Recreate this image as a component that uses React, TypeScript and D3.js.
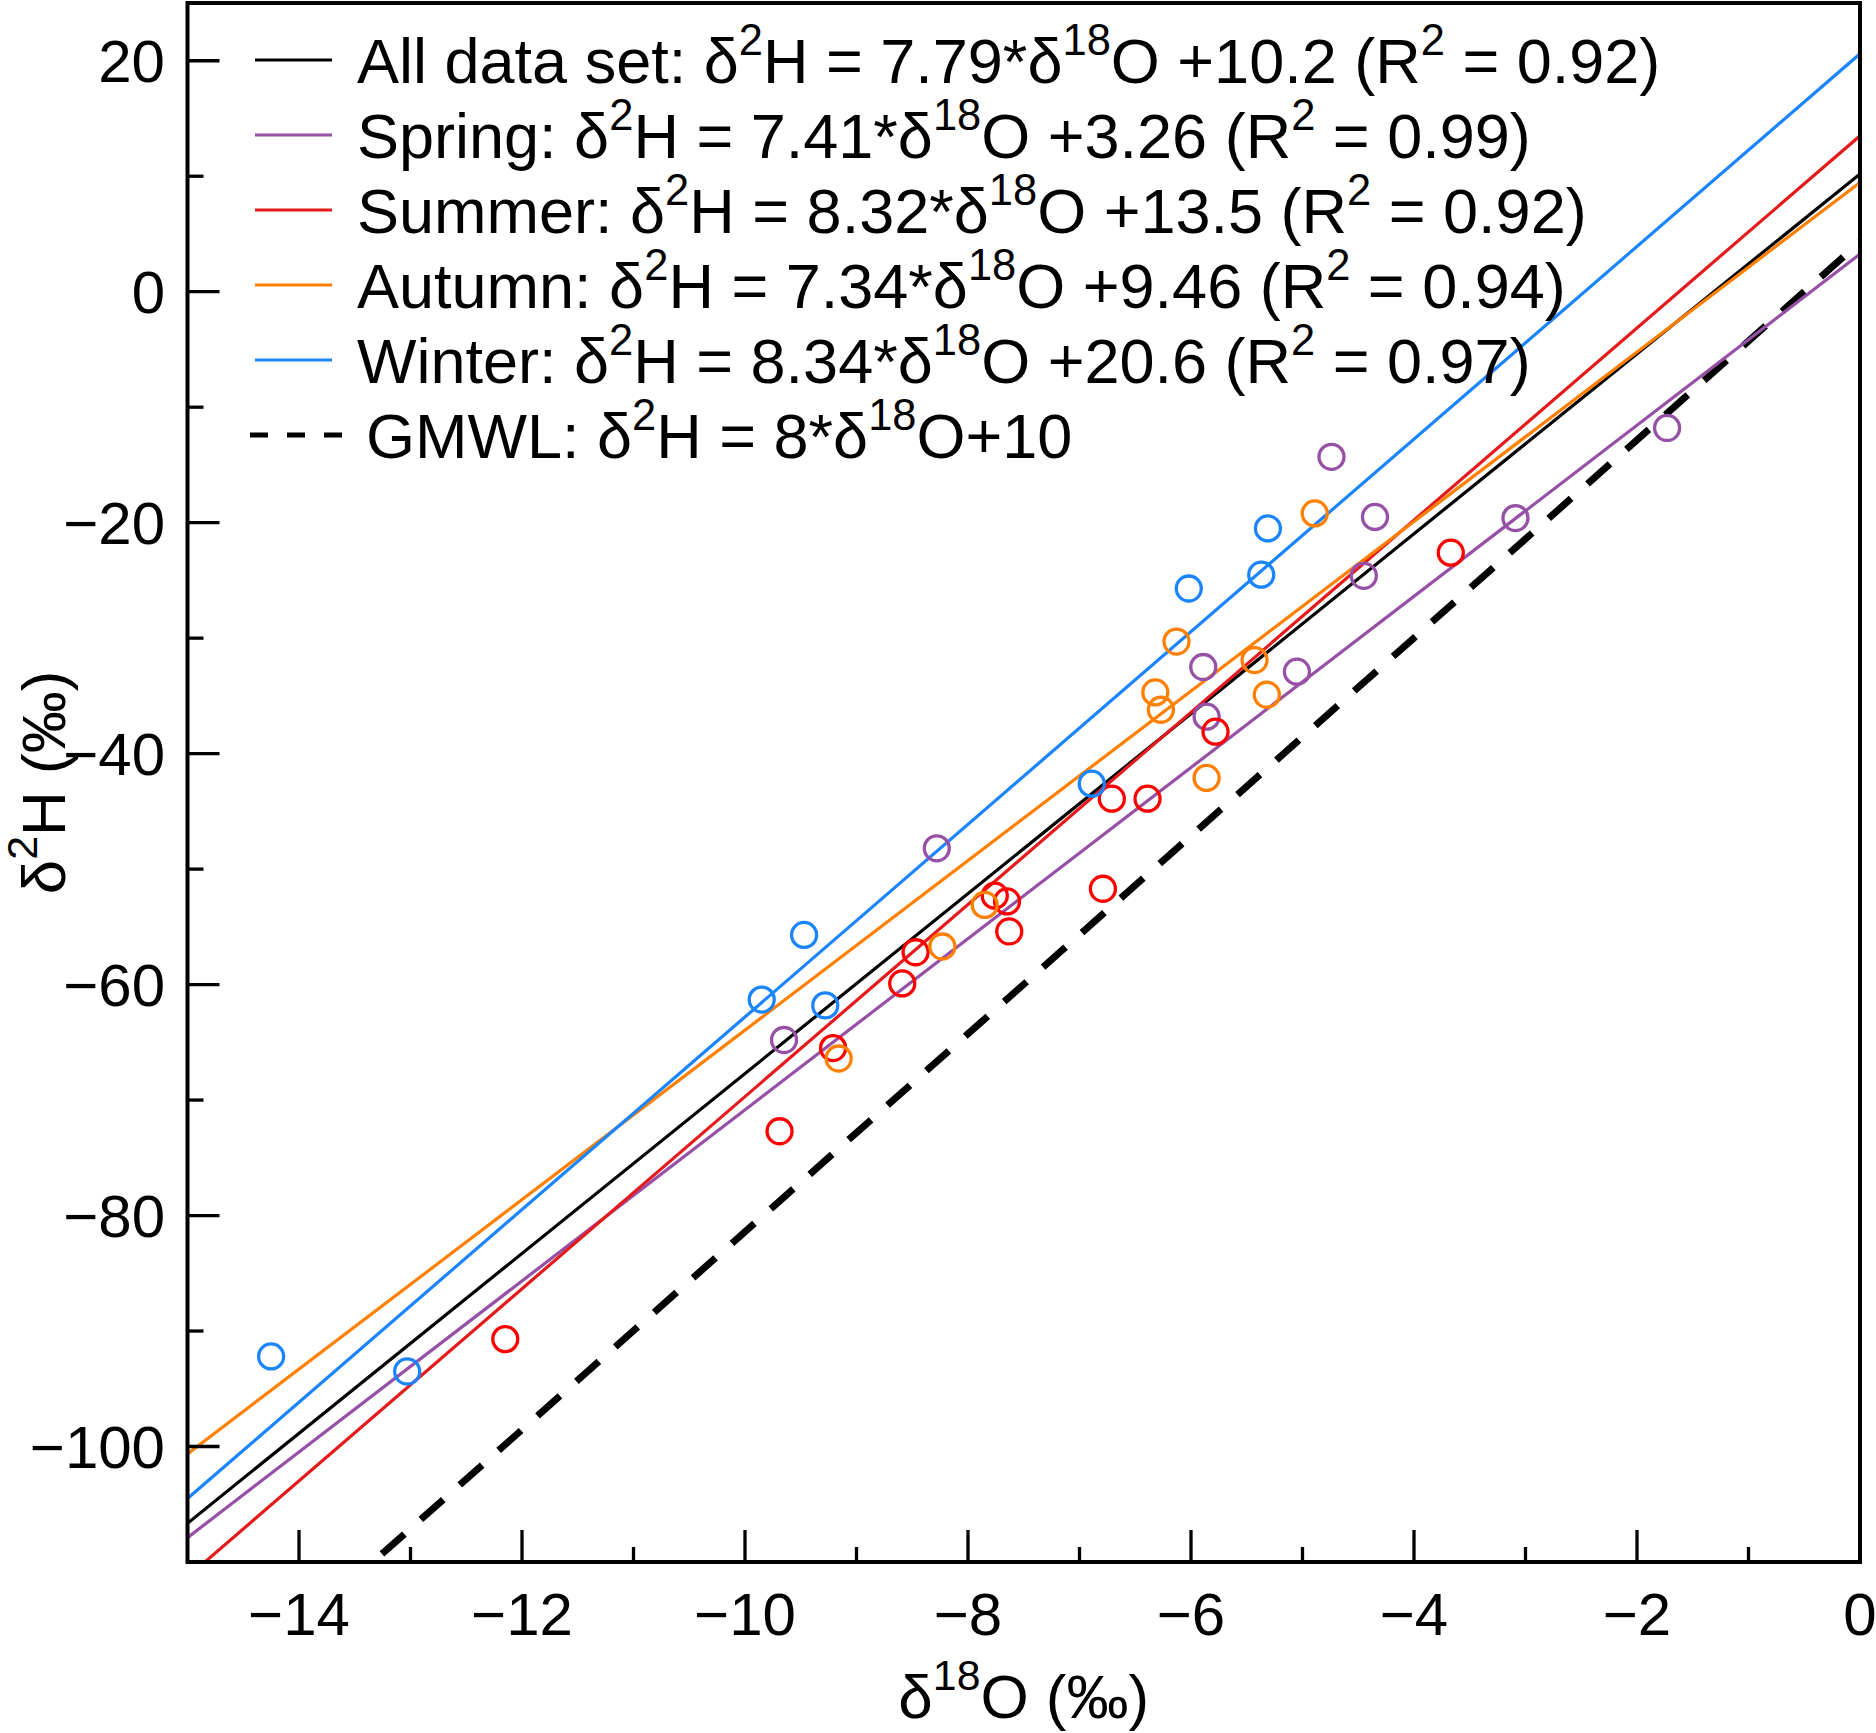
import { useRef, useEffect } from "react";
import * as d3 from "d3";

// Seasonal isotope samples [δ18O, δ2H]
const springPts: [number, number][] = [
  [-9.65, -64.8], [-8.28, -48.2], [-5.89, -32.5], [-5.86, -36.8], [-5.05, -32.9],
  [-4.74, -14.3], [-4.45, -24.6], [-4.35, -19.5], [-3.09, -19.6], [-1.73, -11.8],
];
const summerPts: [number, number][] = [
  [-12.15, -90.7], [-9.69, -72.7], [-9.21, -65.5], [-8.59, -59.9], [-8.47, -57.2],
  [-7.76, -52.3], [-7.65, -52.8], [-7.63, -55.4], [-6.79, -51.7], [-6.71, -43.9],
  [-6.39, -43.9], [-5.78, -38.1], [-3.67, -22.6],
];
const autumnPts: [number, number][] = [
  [-9.16, -66.4], [-8.23, -56.7], [-7.85, -53.1], [-6.32, -34.7], [-6.27, -36.2],
  [-6.13, -30.3], [-5.86, -42.1], [-5.43, -31.9], [-5.32, -34.9], [-4.89, -19.2],
];
const winterPts: [number, number][] = [
  [-14.25, -92.2], [-13.03, -93.5], [-9.85, -61.3], [-9.47, -55.7], [-9.28, -61.8],
  [-6.89, -42.6], [-6.02, -25.7], [-5.37, -24.5], [-5.31, -20.5],
];

// Regression lines (All, Spring, Summer, Autumn, Winter)
const fitNames = ["All data set", "Spring", "Summer", "Autumn", "Winter"];
const fitSlopes = [7.79, 7.41, 8.32, 7.34, 8.34];
const fitIntercepts = [10.2, 3.26, 13.5, 9.46, 20.6];
const fitR2 = ["0.92", "0.99", "0.92", "0.94", "0.97"];
const fitColors = ["#000000", "#9650a6", "#e41a1c", "#ff7f00", "#1a85ff"];
const markerColors = ["#000000", "#9650a6", "#ff0000", "#ff8000", "#1a85ff"];

// dashed reference line as it is drawn in the picture
const gmwlSlope = 8.57;
const gmwlIntercept = 4.3;

const xTicks = [-14, -12, -10, -8, -6, -4, -2, 0];
const xMinor = [-13, -11, -9, -7, -5, -3, -1];
const yTicks = [20, 0, -20, -40, -60, -80, -100];
const yMinor = [10, -10, -30, -50, -70, -90];

const FONT = "'Liberation Sans', Arial, Helvetica, sans-serif";

type Part = [string, boolean];

function rich(sel: d3.Selection<SVGTextElement, unknown, null, undefined>, parts: Part[], size: number) {
  const supSize = size * 0.69;
  const raise = size * 0.45;
  let up = false;
  parts.forEach(([t, sup]) => {
    const ts = sel.append("tspan").text(t);
    if (sup && !up) { ts.attr("dy", -raise).attr("font-size", supSize); up = true; }
    else if (sup) ts.attr("font-size", supSize);
    else if (up) { ts.attr("dy", raise).attr("font-size", size); up = false; }
    else ts.attr("font-size", size);
  });
}

export default function App() {
  const svgRef = useRef<SVGSVGElement>(null);
  const W = 1876, H = 1733;

  useEffect(() => {
    if (!svgRef.current) return;
    const svg = d3.select(svgRef.current);
    svg.selectAll("*").remove();

    const L = 187.5, R = 1860, T = 3, B = 1562;
    const x = d3.scaleLinear().domain([-15, 0]).range([L, R]);
    const y = d3.scaleLinear().domain([-110, 25]).range([B, T]);

    svg.append("defs").append("clipPath").attr("id", "plot-clip")
      .append("rect").attr("x", L).attr("y", T).attr("width", R - L).attr("height", B - T);

    const plot = svg.append("g").attr("clip-path", "url(#plot-clip)");

    // GMWL dashed
    plot.append("line")
      .attr("x1", x(-15)).attr("y1", y(gmwlSlope * -15 + gmwlIntercept))
      .attr("x2", x(0)).attr("y2", y(gmwlIntercept))
      .attr("stroke", "#000").attr("stroke-width", 7).attr("stroke-dasharray", "30 22");

    // regression lines
    fitSlopes.forEach((s, i) => {
      plot.append("line")
        .attr("x1", x(-15)).attr("y1", y(s * -15 + fitIntercepts[i]))
        .attr("x2", x(0)).attr("y2", y(fitIntercepts[i]))
        .attr("stroke", fitColors[i]).attr("stroke-width", 3.2);
    });

    // markers
    [springPts, summerPts, autumnPts, winterPts].forEach((pts, k) => {
      plot.append("g").selectAll("circle").data(pts).join("circle")
        .attr("cx", d => x(d[0])).attr("cy", d => y(d[1])).attr("r", 12.5)
        .attr("fill", "none").attr("stroke", markerColors[k + 1]).attr("stroke-width", 3.3);
    });

    // frame
    svg.append("rect").attr("x", L).attr("y", T).attr("width", R - L).attr("height", B - T)
      .attr("fill", "none").attr("stroke", "#000").attr("stroke-width", 4);

    // ticks (inward)
    const ax = svg.append("g").attr("stroke", "#000").attr("stroke-width", 3.3);
    xTicks.forEach(v => ax.append("line").attr("x1", x(v)).attr("x2", x(v)).attr("y1", B).attr("y2", B - 32));
    xMinor.forEach(v => ax.append("line").attr("x1", x(v)).attr("x2", x(v)).attr("y1", B).attr("y2", B - 15));
    yTicks.forEach(v => ax.append("line").attr("x1", L).attr("x2", L + 32).attr("y1", y(v)).attr("y2", y(v)));
    yMinor.forEach(v => ax.append("line").attr("x1", L).attr("x2", L + 16).attr("y1", y(v)).attr("y2", y(v)));

    const fmt = (v: number) => (v < 0 ? "\u2212" + Math.abs(v) : String(v));
    svg.append("g").selectAll("text").data(xTicks).join("text")
      .attr("x", d => x(d)).attr("y", 1635).attr("text-anchor", "middle")
      .attr("font-family", FONT).attr("font-size", 60).text(d => fmt(d));
    svg.append("g").selectAll("text").data(yTicks).join("text")
      .attr("x", 165).attr("y", d => y(d) + 21).attr("text-anchor", "end")
      .attr("font-family", FONT).attr("font-size", 60).text(d => fmt(d));

    // axis titles
    const xt = svg.append("text").attr("x", (L + R) / 2).attr("y", 1718)
      .attr("text-anchor", "middle").attr("font-family", FONT);
    rich(xt, [["δ", false], ["18", true], ["O (‰)", false]], 62);
    const yt = svg.append("text").attr("transform", `translate(65,${(T + B) / 2}) rotate(-90)`)
      .attr("text-anchor", "middle").attr("font-family", FONT);
    rich(yt, [["δ", false], ["2", true], ["H (‰)", false]], 62);

    // legend
    const lx1 = 255, lx2 = 332, tx = 357, row0 = 60, gap = 75, lsize = 63;
    fitNames.forEach((n, i) => {
      const cy = row0 + i * gap;
      svg.append("line").attr("x1", lx1).attr("x2", lx2).attr("y1", cy).attr("y2", cy)
        .attr("stroke", fitColors[i]).attr("stroke-width", 3.2);
      const t = svg.append("text").attr("x", tx).attr("y", cy + 23).attr("font-family", FONT);
      const ic = (fitIntercepts[i] >= 0 ? "+" : "") + fitIntercepts[i];
      rich(t, [
        [`${n}: δ`, false], ["2", true], [`H = ${fitSlopes[i]}*δ`, false], ["18", true],
        [`O ${ic} (R`, false], ["2", true], [` = ${fitR2[i]})`, false],
      ], lsize);
    });
    const gy = row0 + 5 * gap;
    svg.append("line").attr("x1", 250).attr("x2", 345).attr("y1", gy).attr("y2", gy)
      .attr("stroke", "#000").attr("stroke-width", 5).attr("stroke-dasharray", "18 19");
    const gt = svg.append("text").attr("x", 366).attr("y", gy + 23).attr("font-family", FONT);
    rich(gt, [["GMWL: δ", false], ["2", true], ["H = 8*δ", false], ["18", true], ["O+10", false]], lsize);
  }, []);

  return (
    <svg ref={svgRef} width={W} height={H}
      style={{ position: "absolute", left: 0, top: 0, background: "#fff", display: "block" }} />
  );
}
